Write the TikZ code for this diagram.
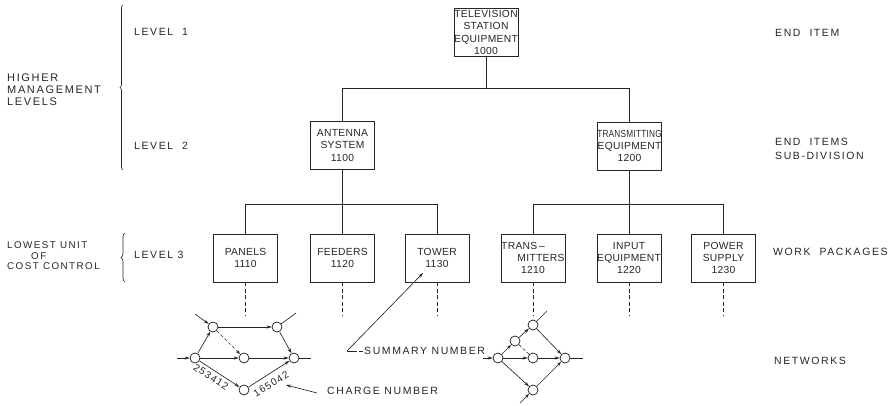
\documentclass[tikz,border=0pt]{standalone}
\usepackage{fontspec}
\setmainfont{Liberation Sans}
\newfontfamily\lblfont[LetterSpace=15]{Liberation Sans}
\newfontfamily\boxfont[LetterSpace=3]{Liberation Sans}
\newfontfamily\numfont[LetterSpace=12]{Liberation Sans}
\usetikzlibrary{arrows.meta,decorations.pathreplacing}
\begin{document}
\begin{tikzpicture}[x=1pt,y=-1pt,
  ink/.style={draw=black!85, line width=0.85pt},
  wbs/.style={ink, rectangle, inner sep=0pt, align=center, minimum width=64pt, minimum height=48pt,
    font=\boxfont\fontsize{10.3}{12.3}\selectfont, text=black!85},
  lbl/.style={anchor=west, inner sep=0pt, font=\lblfont\fontsize{10.5}{12}\selectfont, text=black!85},
  numlbl/.style={inner sep=0pt, font=\numfont\fontsize{10}{11}\selectfont, text=black!85},
  ev/.style={circle, draw=black!85, line width=0.75pt, minimum size=10pt, inner sep=0pt},
  arr/.style={draw=black!85, line width=0.65pt, -{Stealth[length=5pt,width=3.2pt]}},
  thin/.style={draw=black!85, line width=0.65pt},
  dlink/.style={draw=black!85, line width=0.75pt, dash pattern=on 4pt off 2.5pt},
  bracestyle/.style={draw=black!85, line width=0.65pt, decorate, decoration={brace, amplitude=3pt}}
]
\useasboundingbox (0,0) rectangle (888,406);

% ---------------- boxes
\node[wbs] (tv)  at (486,32.5) {TELEVISION\\STATION\\EQUIPMENT\\1000};
\node[wbs] (ant) at (342.5,145.5) {ANTENNA\\SYSTEM\\1100};
\node[wbs] (trn) at (629.5,146) {\scalebox{0.8}[1]{TRANSMITTING}\\EQUIPMENT\\1200};
\node[wbs] (pan) at (245.5,258) {PANELS\\1110};
\node[wbs] (fee) at (342.5,258) {FEEDERS\\1120};
\node[wbs] (tow) at (437,258) {TOWER\\1130};
\node[wbs] (tms) at (533,258) {\hspace*{-20pt}TRANS\,–\\\hspace*{16pt}MITTERS\\1210};
\node[wbs] (inp) at (629,258) {INPUT\\EQUIPMENT\\1220};
\node[wbs] (pws) at (723.5,258) {POWER\\SUPPLY\\1230};

% ---------------- tree connectors
\coordinate (b1) at (486,88);
\coordinate (b2) at (342.5,204);
\coordinate (b3) at (629.5,204);
\draw[ink] (tv.south) -- (b1);
\draw[ink] (ant.north) -- (ant.north |- b1) -- (trn.north |- b1) -- (trn.north);
\draw[ink] (ant.south) -- (b2);
\draw[ink] (pan.north) -- (pan.north |- b2) -- (tow.north |- b2) -- (tow.north);
\draw[ink] (fee.north) -- (fee.north |- b2);
\draw[ink] (trn.south) -- (b3);
\draw[ink] (tms.north) -- (tms.north |- b3) -- (pws.north |- b3) -- (pws.north);
\draw[ink] (inp.north) -- (inp.north |- b3);

% ---------------- dashed drops
\foreach \n in {pan,fee,tow,tms,inp,pws}
  \draw[dlink] (\n.south) -- ++(0,33);

% ---------------- side labels and braces
\node[lbl, align=left, font=\lblfont\fontsize{11}{12}\selectfont] (hml) at (7,90) {HIGHER\\MANAGEMENT\\LEVELS};
\node[lbl] (l1) at (134,32) {LEVEL\ \ 1};
\node[lbl] (l2) at (134,146) {LEVEL\ \ 2};
\node[lbl, align=left, font=\lblfont\fontsize{9.8}{10.6}\selectfont] (luc) at (7,256) {LOWEST UNIT\\\hspace*{24pt}OF\\COST CONTROL};
\node[lbl] (l3) at (134,255) {LEVEL 3};
\draw[bracestyle] (123,170) -- (123,5);
\draw[bracestyle, decoration={brace, amplitude=4pt}] (125,282) -- (125,233);

\node[lbl] (ei) at (775,33) {END\ \ ITEM};
\node[lbl, align=left, font=\lblfont\fontsize{10.5}{13.5}\selectfont] (eis) at (775,149) {END\ \ ITEMS\\SUB-DIVISION};
\node[lbl] (wp) at (773,252) {WORK\ \ PACKAGES};
\node[lbl] (nw) at (774,361) {NETWORKS};

% ---------------- left network
\node[ev] (A) at (213,327) {};
\node[ev] (B) at (277,327) {};
\node[ev] (C) at (195,358) {};
\node[ev] (D) at (244,358) {};
\node[ev] (E) at (294,358) {};
\node[ev] (F) at (244,390) {};
\coordinate (ain) at (195,314);
\coordinate (cin) at (177,358);
\coordinate (bout) at (296,313);
\coordinate (eout) at (311,358);
\draw[arr] (ain) -- (A);
\draw[arr] (cin) -- (C);
\draw[thin] (B) -- (bout);
\draw[thin] (E) -- (eout);
\draw[arr] (C) -- (A);
\draw[arr] (A) -- (B);
\draw[arr, dash pattern=on 3pt off 2.5pt] (A) -- (D);
\draw[arr] (C) -- (D);
\draw[arr] (D) -- (E);
\draw[arr] (B) -- (E);
\draw[arr] (C) -- (F);
\draw[arr] (F) -- (E);
\node[numlbl, rotate=-33] (n1) at (211,377) {253412};
\node[numlbl, rotate=32] (n2) at (271,384) {165042};

\node[lbl] (chg) at (327,391) {CHARGE NUMBER};
\coordinate (chgtail) at (317,393);
\coordinate (chgtip) at (286,385);
\draw[arr] (chgtail) -- (chgtip);

% ---------------- summary number
\node[lbl] (sum) at (364,351) {SUMMARY NUMBER};
\coordinate (sk) at (347,351);
\coordinate (sumtip) at (423,273);
\draw[thin, dash pattern=on 10pt off 2pt on 4pt off 20pt] (sk) -- (sum.west);
\draw[arr] (sk) -- (sumtip);

% ---------------- right network
\node[ev] (P) at (498,358) {};
\node[ev] (Q) at (515,341) {};
\node[ev] (R) at (533,325) {};
\node[ev] (S) at (533,358) {};
\node[ev] (T) at (565,358) {};
\node[ev] (U) at (533,390) {};
\coordinate (pin) at (483,358);
\coordinate (uin) at (520,403);
\coordinate (rout) at (547,311);
\coordinate (tout) at (583,358);
\draw[arr] (pin) -- (P);
\draw[arr] (uin) -- (U);
\draw[thin] (R) -- (rout);
\draw[thin] (T) -- (tout);
\draw[arr] (P) -- (Q);
\draw[arr] (Q) -- (R);
\draw[thin, dash pattern=on 3pt off 2.5pt] (Q) -- (S);
\draw[arr] (P) -- (S);
\draw[arr] (S) -- (T);
\draw[arr] (R) -- (T);
\draw[arr] (P) -- (U);
\draw[arr] (U) -- (T);
\end{tikzpicture}
\end{document}
